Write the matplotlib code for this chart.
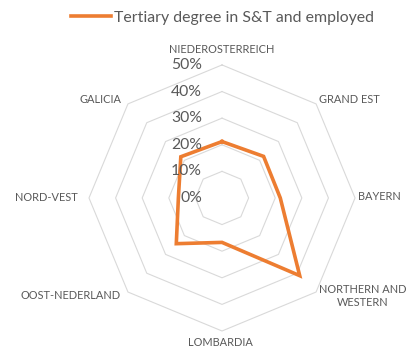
import numpy as np
import matplotlib
matplotlib.use("Agg")
import matplotlib.pyplot as plt

plt.rcParams['font.family'] = ['Lato', 'DejaVu Sans']

# regions, clockwise from the top
regions = ["NIEDEROSTERREICH", "GRAND EST", "BAYERN", "NORTHERN AND\nWESTERN",
           "LOMBARDIA", "OOST-NEDERLAND", "NORD-VEST", "GALICIA"]
share = [0.212, 0.221, 0.219, 0.413, 0.167, 0.243, 0.164, 0.219]
ring_values = [0.1, 0.2, 0.3, 0.4, 0.5]
tick_values = [0.0, 0.1, 0.2, 0.3, 0.4, 0.5]
tick_labels = ["0%", "10%", "20%", "30%", "40%", "50%"]
series_name = "Tertiary degree in S&T and employed"

# label placement: offset in pixels from the outer vertex, alignment
label_pos = [((0, 15), 'center'), ((3, 4), 'left'), ((3, 1), 'left'),
             ((47, -4), 'center'), ((-2, -12), 'center'), ((-7, -3), 'right'),
             ((-11, 0), 'right'), ((-6, 4), 'right')]

orange = '#ED7D31'
grey_txt = '#595959'
grid_col = '#D9D9D9'
px = 72 / 100.0  # pixel -> points

fig = plt.figure(figsize=(4.1, 3.51), dpi=100)
ax = fig.add_axes([0.217, 0.057, 0.649, 0.758], projection='polar')
ax.set_theta_zero_location('N')
ax.set_theta_direction(-1)
ax.set_ylim(0, 0.5)
ax.set_xticks([])
ax.set_yticks([])
ax.grid(False)
ax.spines['polar'].set_visible(False)
ax.patch.set_alpha(0)

n = len(regions)
theta = np.linspace(0, 2 * np.pi, n, endpoint=False)
theta_c = np.append(theta, theta[0])

# octagonal gridlines
for r in ring_values:
    ax.plot(theta_c, [r] * (n + 1), color=grid_col, lw=0.8, clip_on=False, zorder=1)

vals = np.append(share, share[0])
line, = ax.plot(theta_c, vals, color=orange, lw=2.6, solid_joinstyle='miter',
                clip_on=False, zorder=3, label=series_name)

# value axis labels
for v, lab in zip(tick_values, tick_labels):
    ax.annotate(lab, xy=(0, v), xytext=(-20 * px, 0), textcoords='offset points',
                ha='right', va='center', fontsize=11.3, color=grey_txt,
                annotation_clip=False, zorder=4)

# category labels
for t, name, ((dx, dy), ha) in zip(theta, regions, label_pos):
    ax.annotate(name, xy=(t, 0.5), xytext=(dx * px, dy * px), textcoords='offset points',
                ha=ha, va='center', multialignment='center', fontsize=7.9,
                color=grey_txt, annotation_clip=False, linespacing=1.3)

fig.legend(handles=[line], loc='upper center', bbox_to_anchor=(0.543, 1.01),
           frameon=False, fontsize=11.4, handlelength=2.5, handletextpad=0.2,
           labelcolor=grey_txt)

fig.savefig('out.png', dpi=100, facecolor='white')
